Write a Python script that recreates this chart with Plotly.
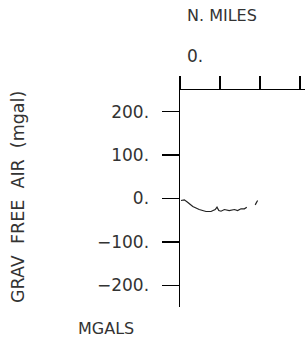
import plotly.graph_objects as go

# Distance along track (N. miles) and free-air gravity (mgal)
dist_seg1 = [2.5, 10.8, 19, 32, 48, 65, 77.5, 88, 92.5, 97, 102.5, 111, 123, 136, 144, 152.5, 161, 167]
grav_seg1 = [-4.6, -3, -8.5, -18.5, -25.4, -30, -30, -25.4, -20, -27.7, -29.3, -25.4, -27.7, -25.4, -27.7, -23.8, -23.8, -20]
dist_seg2 = [188, 194]
grav_seg2 = [-14.6, -4.6]

y_ticks = [200, 100, 0, -100, -200]
y_tick_labels = ["200.", "100.", "0.", "\u2212100.", "\u2212200."]
x_ticks = [0, 100, 200, 300]

FONT = "DejaVu Sans"
TXT = "#333333"
line_style = dict(color="#222222", width=1.2)

fig = go.Figure()
fig.add_trace(go.Scatter(x=dist_seg1, y=grav_seg1, mode="lines", line=line_style, showlegend=False))
fig.add_trace(go.Scatter(x=dist_seg2, y=grav_seg2, mode="lines", line=line_style, showlegend=False))

W, H = 305, 347
l, r, t, b = 180, 0, 90, 40

fig.update_layout(
    width=W, height=H,
    margin=dict(l=l, r=r, t=t, b=b, autoexpand=False),
    paper_bgcolor="white", plot_bgcolor="white",
    font=dict(family=FONT, color=TXT),
    hovermode=False,
    xaxis=dict(
        range=[0, 312.5], side="top", tickvals=x_ticks, showticklabels=False,
        ticks="outside", ticklen=13, tickwidth=1.5, tickcolor="black",
        showline=True, linecolor="black", linewidth=1.5,
        showgrid=False, zeroline=False, fixedrange=True, automargin=False,
    ),
    yaxis=dict(
        range=[-250, 250], tickvals=y_ticks, ticktext=y_tick_labels,
        ticks="outside", ticklen=17, tickwidth=1.5, tickcolor="black",
        ticklabelstandoff=9,
        tickfont=dict(family=FONT, size=17, color=TXT),
        showline=True, linecolor="black", linewidth=1.5,
        showgrid=False, zeroline=False, fixedrange=True, automargin=False,
    ),
)

pw, ph = W - l - r, H - t - b


def px_ann(text, px, py, size, angle=0):
    return dict(text=text, xref="paper", yref="paper",
                x=(px - l) / pw, y=(H - b - py) / ph,
                xanchor="center", yanchor="middle", showarrow=False, textangle=angle,
                font=dict(family=FONT, size=size, color=TXT))


fig.update_layout(annotations=[
    px_ann("N. MILES", 222, 15, 16),
    px_ann("0.", 195, 56, 17),
    px_ann("MGALS", 106, 328, 16),
    px_ann("GRAV  FREE  AIR  (mgal)", 18, 197, 17.5, -90),
])

fig.write_html("out.html", config={"displayModeBar": False, "staticPlot": True},
               post_script="document.body.style.margin='0';document.body.style.padding='0';")
